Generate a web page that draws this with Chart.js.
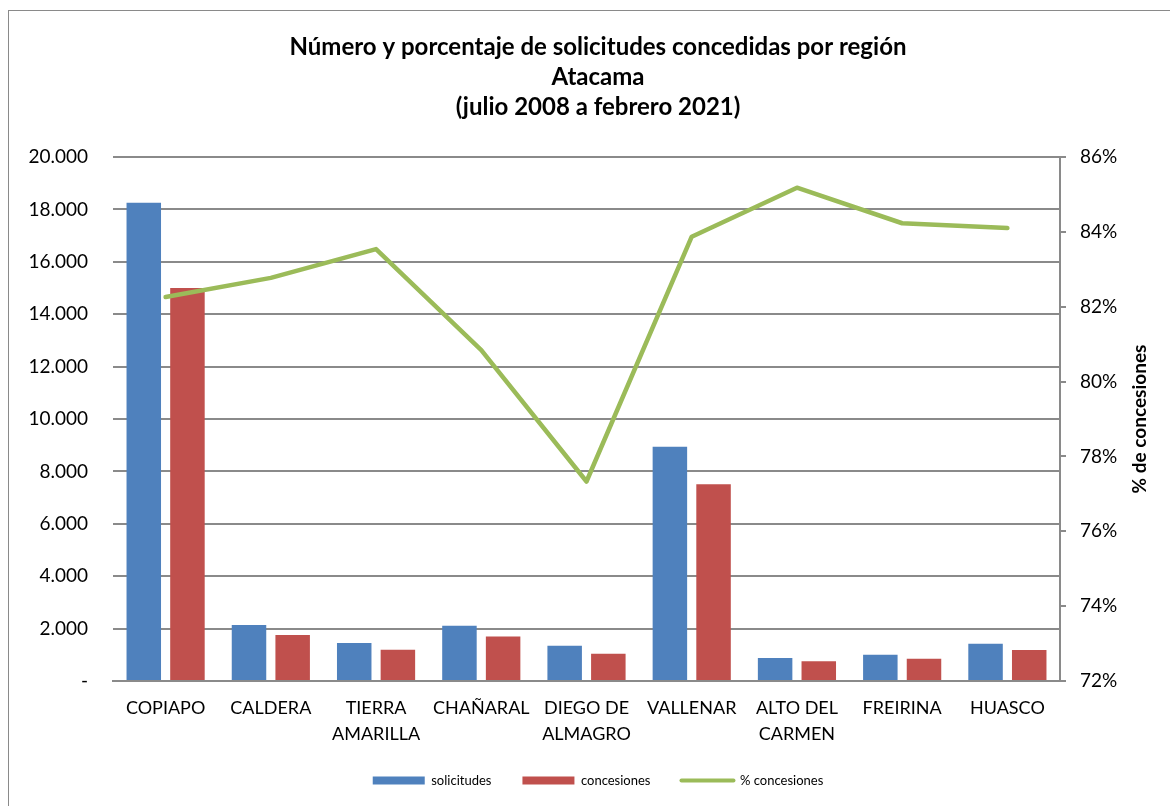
<!DOCTYPE html>
<html>
<head>
<meta charset="utf-8">
<script src="https://cdn.jsdelivr.net/npm/chart.js@4/dist/chart.umd.min.js"></script>
<style>
  html, body { margin: 0; padding: 0; background: #fff; overflow: hidden; }
  #frame { position: absolute; left: 8px; top: 10px; width: 1200px; height: 900px; border: 1px solid #8a8a8a; }
  #wrap { position: absolute; left: 0; top: 0; width: 1170px; height: 806px; }
</style>
</head>
<body>
<div id="frame"></div>
<div id="wrap"><canvas id="chart"></canvas></div>
<script>
const categories = ['COPIAPO', 'CALDERA', ['TIERRA', 'AMARILLA'], 'CHAÑARAL', ['DIEGO DE', 'ALMAGRO'], 'VALLENAR', ['ALTO DEL', 'CARMEN'], 'FREIRINA', 'HUASCO'];
const solicitudes = [18250, 2140, 1450, 2110, 1350, 8940, 880, 1000, 1420];
const concesiones = [15000, 1760, 1190, 1700, 1040, 7510, 750, 850, 1180];
const pctConcesiones = [82.26, 82.77, 83.54, 80.84, 77.33, 83.87, 85.18, 84.23, 84.10];

const FONT = 'Lato, "Liberation Sans", sans-serif';

function thousands(v) {
  if (v === 0) return '-';
  return String(v).replace(/\B(?=(\d{3})+(?!\d))/g, '.');
}

// right axis title reads bottom-to-top, chart.js only does the other way
const rightTitle = {
  id: 'rightTitle',
  afterDraw(chart) {
    const s = chart.scales.y1;
    const ctx = chart.ctx;
    ctx.save();
    ctx.translate(s.right - 30, (chart.chartArea.top + chart.chartArea.bottom) / 2);
    ctx.rotate(-Math.PI / 2);
    ctx.font = 'bold 19px ' + FONT;
    ctx.fillStyle = '#000';
    ctx.textAlign = 'center';
    ctx.textBaseline = 'middle';
    ctx.fillText('% de concesiones', 0, 0);
    ctx.restore();
  },
};

new Chart(document.getElementById('chart'), {
  data: {
    labels: categories,
    datasets: [
      { type: 'bar', label: 'solicitudes', data: solicitudes, backgroundColor: '#4f81bd', yAxisID: 'y', order: 1 },
      { type: 'bar', label: 'concesiones', data: concesiones, backgroundColor: '#c0504d', yAxisID: 'y', order: 1 },
      {
        type: 'line', label: '% concesiones', data: pctConcesiones, yAxisID: 'y1', order: 0,
        borderColor: '#9bbb59', backgroundColor: '#9bbb59', borderWidth: 4.5, pointRadius: 0, tension: 0,
        borderCapStyle: 'round', borderJoinStyle: 'round',
      },
    ],
  },
  options: {
    responsive: true,
    maintainAspectRatio: false,
    animation: false,
    categoryPercentage: 0.83,
    barPercentage: 0.79,
    layout: { padding: { left: 26, right: 0, top: 32, bottom: 9 } },
    plugins: {
      tooltip: { enabled: false },
      title: {
        display: true,
        text: ['Número y porcentaje de solicitudes concedidas por región', 'Atacama', '(julio 2008 a febrero 2021)'],
        color: '#000',
        font: { family: FONT, size: 24, weight: 'bold', lineHeight: 1.25 },
        padding: { top: 0, bottom: 35 },
      },
      legend: {
        position: 'bottom',
        labels: {
          color: '#000',
          font: { family: FONT, size: 13 },
          usePointStyle: true,
          pointStyleWidth: 52,
          boxHeight: 8,
          padding: 31,
          generateLabels: (chart) => chart.data.datasets.map((ds, i) => ({
            text: ds.label,
            fillStyle: ds.backgroundColor,
            strokeStyle: ds.borderColor || ds.backgroundColor,
            lineWidth: ds.type === 'line' ? 4 : 0,
            lineCap: 'round',
            pointStyle: ds.type === 'line' ? 'line' : 'rect',
            fontColor: '#000',
            hidden: false,
            datasetIndex: i,
          })),
        },
      },
    },
    scales: {
      x: {
        afterFit: (s) => { s.height = 62; },
        grid: { display: false },
        border: { display: true, color: '#8a8a8a', width: 2 },
        ticks: { color: '#000', font: { family: FONT, size: 18, lineHeight: 1.4 }, padding: 7, maxRotation: 0, autoSkip: false },
      },
      y: {
        position: 'left',
        min: 0,
        max: 20000,
        afterFit: (s) => { s.width = 87; },
        ticks: { stepSize: 2000, color: '#000', font: { family: FONT, size: 19 }, padding: 25, callback: (v) => thousands(v) },
        grid: { color: '#8a8a8a', lineWidth: 2, drawTicks: false },
        border: { display: false },
      },
      y1: {
        position: 'right',
        min: 72,
        max: 86,
        afterFit: (s) => { s.width = 110; },
        ticks: { stepSize: 2, color: '#000', font: { family: FONT, size: 19 }, padding: 14, callback: (v) => v + '%' },
        grid: { drawOnChartArea: false, drawTicks: true, tickLength: 6, color: '#8a8a8a', lineWidth: 2 },
        border: { display: true, color: '#8a8a8a', width: 2 },
      },
    },
  },
  plugins: [rightTitle],
});
</script>
</body>
</html>
